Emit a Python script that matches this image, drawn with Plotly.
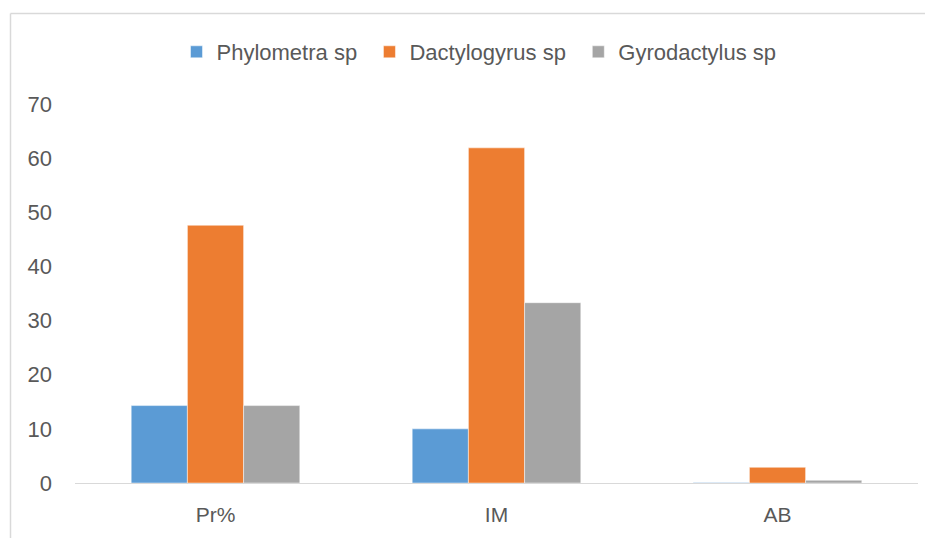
import plotly.graph_objects as go

categories = ["Pr%", "IM", "AB"]
phylometra = [14.3, 10.0, 0.1]
dactylogyrus = [47.6, 61.9, 2.9]
gyrodactylus = [14.3, 33.3, 0.5]
series_names = ["Phylometra sp", "Dactylogyrus sp", "Gyrodactylus sp"]
colors = ["#5B9BD5", "#ED7D31", "#A5A5A5"]
y_ticks = [0, 10, 20, 30, 40, 50, 60, 70]

FONT = "Liberation Sans, Arial, sans-serif"
PAD = "\u2004"
fig = go.Figure()
for i, (name, vals, col) in enumerate(zip(series_names, [phylometra, dactylogyrus, gyrodactylus], colors)):
    label = name + (PAD if i < len(series_names) - 1 else "")
    fig.add_trace(go.Bar(x=categories, y=vals, name=label,
                         marker=dict(color=col, line=dict(color="rgba(255,255,255,0.6)", width=0.8))))

W, H = 933, 538
OFF = 8  # page body margin
L, R, T, B = 67, 23, 96, 63
pw = W - L - R
ph = H - T - B

def px_x(x):
    return (x - OFF - L) / pw

def px_y(y):
    return (H - B - (y - OFF)) / ph

fig.update_layout(
    width=W, height=H,
    margin=dict(l=L, r=R, t=T, b=B, autoexpand=False),
    paper_bgcolor="white", plot_bgcolor="white",
    barmode="group", bargap=0.4, bargroupgap=0,
    font=dict(family=FONT, size=21, color="#595959"),
    legend=dict(orientation="h", x=px_x(479), xanchor="center", y=px_y(52), yanchor="middle",
                font=dict(size=22, color="#595959"), itemwidth=30, traceorder="normal"),
    xaxis=dict(showline=True, linecolor="#D9D9D9", linewidth=1, ticks="", showgrid=False,
               ticklabelstandoff=13, tickfont=dict(size=21, color="#595959")),
    yaxis=dict(range=[0, 70], tickvals=y_ticks, showgrid=False, zeroline=False, showline=False,
               ticks="", ticklabelstandoff=22, tickfont=dict(size=22, color="#595959")),
    showlegend=True,
    shapes=[
        dict(type="line", xref="paper", yref="paper", x0=px_x(10.5), x1=px_x(950), y0=px_y(13.5), y1=px_y(13.5),
             line=dict(color="#D9D9D9", width=1.5)),
        dict(type="line", xref="paper", yref="paper", x0=px_x(10.5), x1=px_x(10.5), y0=px_y(13.5), y1=px_y(560),
             line=dict(color="#D9D9D9", width=1.5)),
    ],
)
fig.write_html("out.html")
